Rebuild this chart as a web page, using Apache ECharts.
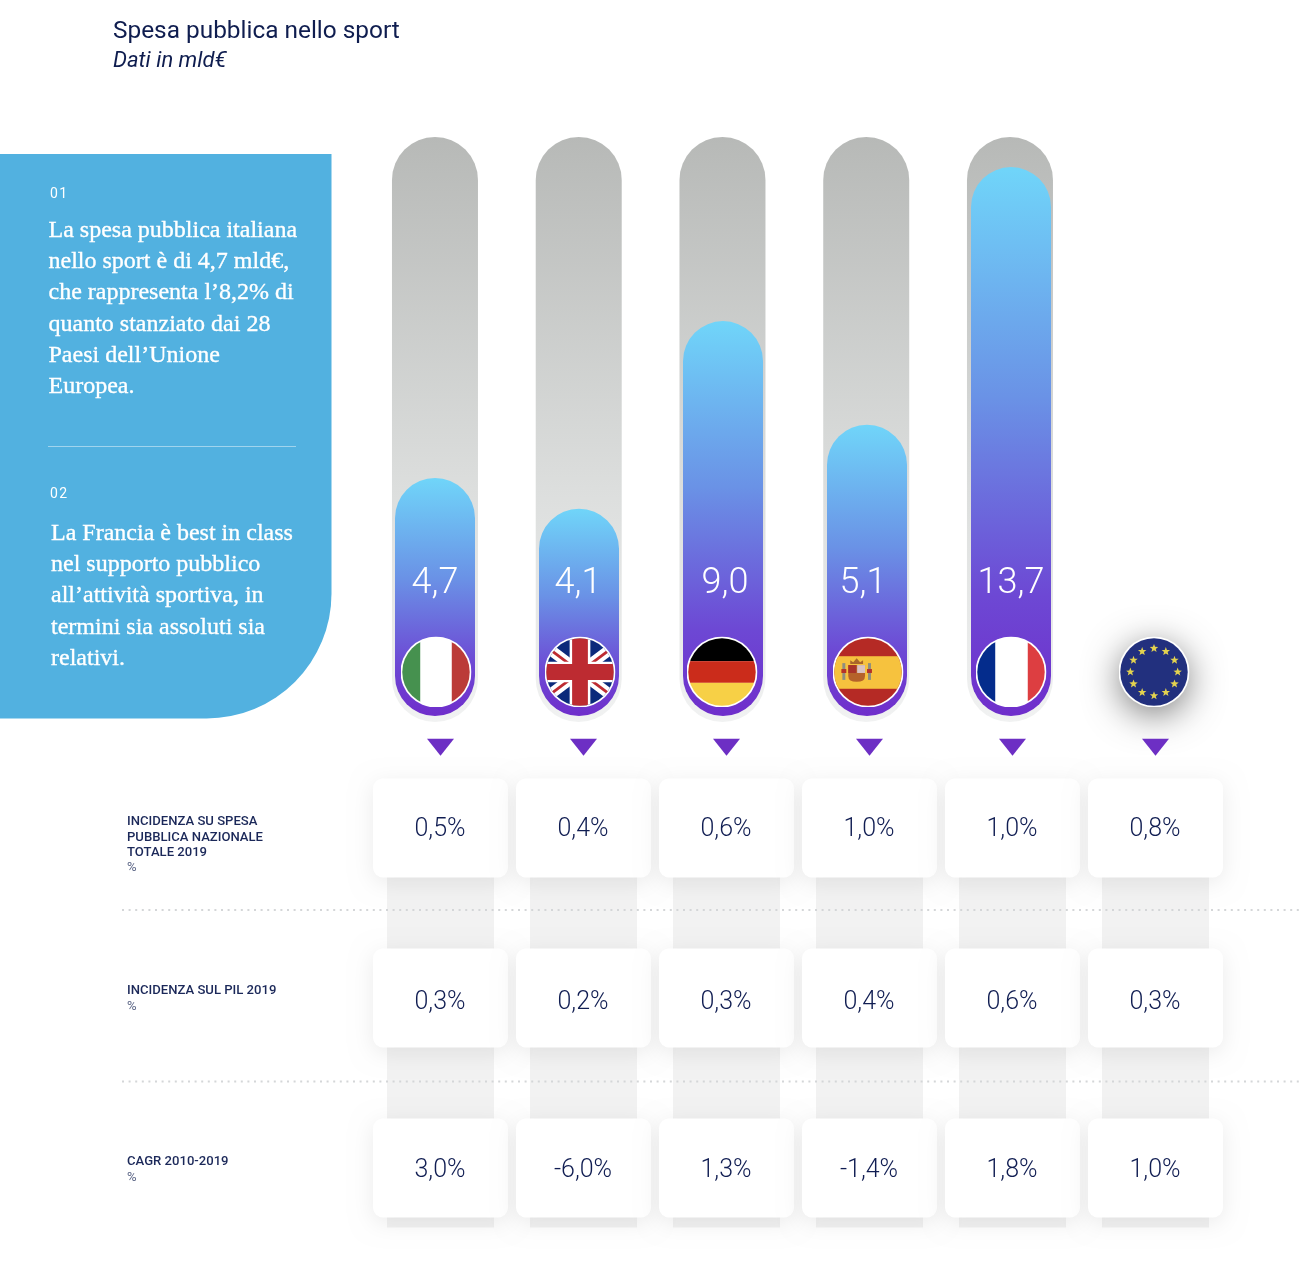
<!DOCTYPE html>
<html><head><meta charset="utf-8">
<style>html,body{margin:0;padding:0;background:#fff}#c{width:1300px;height:1266px}</style>
<script src="https://cdn.jsdelivr.net/npm/echarts@6/dist/echarts.min.js"></script>
</head><body><div id="c"></div>
<script>
const countries = ['Italia','Regno Unito','Germania','Spagna','Francia','UE'];
const spesaValues = [4.7,4.1,9.0,5.1,13.7];
// bar fill, as % of the grey track (the drawing is not proportional to the value)
const fillPercent = [41.1,35.8,68.2,50.3,94.8,null];
const trackPercent = [100,100,100,100,100,null];
const rowLabels = [['INCIDENZA SU SPESA','PUBBLICA NAZIONALE','TOTALE 2019'],['INCIDENZA SUL PIL 2019'],['CAGR 2010-2019']];
const incidenzaSpesa = [0.5,0.4,0.6,1.0,1.0,0.8];
const incidenzaPil = [0.3,0.2,0.3,0.4,0.6,0.3];
const cagr = [3.0,-6.0,1.3,-1.4,1.8,1.0];
const note1 = ['La spesa pubblica italiana','nello sport è di 4,7 mld€,','che rappresenta l’8,2% di','quanto stanziato dai 28','Paesi dell’Unione','Europea.'];
const note2 = ['La Francia è best in class','nel supporto pubblico','all’attività sportiva, in','termini sia assoluti sia','relativi.'];

const NAVY='#101d52';
const fmt=v=>v.toFixed(1).replace('.',',');
function flag(inner){
  const s='<svg xmlns="http://www.w3.org/2000/svg" width="144" height="144" viewBox="0 0 72 72"><defs><clipPath id="k"><circle cx="36" cy="36" r="34.2"/></clipPath></defs><circle cx="36" cy="36" r="36" fill="#fff"/><g clip-path="url(#k)">'+inner+'</g></svg>';
  return 'image://data:image/svg+xml;charset=utf-8,'+encodeURIComponent(s);
}
const stars=(()=>{let o='';for(let i=0;i<12;i++){const a=i*Math.PI/6;const x=36+24*Math.sin(a),y=36-24*Math.cos(a);
  let p='';for(let j=0;j<10;j++){const r=j%2?1.9:4.5,b=j*Math.PI/5;p+=(x+r*Math.sin(b)).toFixed(2)+','+(y-r*Math.cos(b)).toFixed(2)+' ';}
  o+='<polygon points="'+p+'" fill="#e3d24f"/>';}return o;})();
const flags=[
 flag('<rect width="72" height="72" fill="#fff"/><rect width="20" height="72" fill="#46914f"/><rect x="52" width="20" height="72" fill="#bb3b38"/>'),
 flag('<rect width="72" height="72" fill="#0b2a7b"/><path d="M0 9L72 63M72 9L0 63" stroke="#fff" stroke-width="11"/><path d="M0 9L72 63M72 9L0 63" stroke="#bd2b31" stroke-width="3"/><path d="M36 0V72M0 36H72" stroke="#fff" stroke-width="21"/><path d="M36 0V72M0 36H72" stroke="#bd2b31" stroke-width="16"/>'),
 flag('<rect width="72" height="25" fill="#000"/><rect y="25" width="72" height="22" fill="#cb2c1b"/><rect y="47" width="72" height="25" fill="#f7d046"/>'),
 flag('<rect width="72" height="72" fill="#b52a25"/><rect y="20" width="72" height="33" fill="#f6c23e"/><path d="M16 29H33V40Q33 46 24.5 46Q16 46 16 40Z" fill="#b5622a"/><rect x="25" y="29" width="8" height="8" fill="#d9c3c3"/><rect x="16" y="29" width="8" height="8" fill="#a8332a"/><path d="M18 28L18 24L21 26L24.5 22L28 26L31 24L31 28Z" fill="#a9662b"/><rect x="10" y="27" width="3" height="17" fill="#8e8e80"/><rect x="36" y="27" width="3" height="17" fill="#8e8e80"/><rect x="9" y="33" width="5" height="4" fill="#b5322a"/><rect x="35" y="33" width="5" height="4" fill="#b5322a"/>'),
 flag('<rect width="72" height="72" fill="#fff"/><rect width="20" height="72" fill="#042c8c"/><rect x="53" width="19" height="72" fill="#dd3e41"/>'),
 flag('<rect width="72" height="72" fill="#22307e"/>'+stars)
];
const flagLevel=7.6, markerRow=-0.475, stripeEnd=2.35;
const labelNudge=[0,-1,2,-4,0];
const flagNudge=[1,1,-1,1,0,-1];
const rowNudge=[2,5,3];
const rows=[incidenzaSpesa,incidenzaPil,cagr];
const cardData=[];rows.forEach((r,ri)=>r.forEach((v,ci)=>cardData.push([ci,ri,v])));

const serifStyle=t=>({text:t,fill:'#fff',stroke:'#fff',lineWidth:.35,font:'400 24px "Liberation Serif"',textVerticalAlign:'middle'});
const graphic=[
 {type:'rect',z:0,shape:{x:0,y:154,width:331.5,height:564.5,r:[0,0,125,0]},style:{fill:'#52b1e0'}},
 {type:'line',z:1,shape:{x1:48,y1:446.5,x2:296,y2:446.5},style:{stroke:'rgba(255,255,255,.45)',lineWidth:1}},
 {type:'text',z:2,x:50,y:187,style:{text:'0\u200a1',fill:'#fff',font:'400 14px Roboto'}},
 {type:'text',z:2,x:50,y:487,style:{text:'0\u200a2',fill:'#fff',font:'400 14px Roboto'}},
 {type:'line',z:3,shape:{x1:122,y1:910,x2:1300,y2:910},style:{stroke:'#d4d6d8',lineWidth:2,lineDash:[2,4.6]}},
 {type:'line',z:3,shape:{x1:122,y1:1081.5,x2:1300,y2:1081.5},style:{stroke:'#d4d6d8',lineWidth:2,lineDash:[2,4.6]}}
];
note1.forEach((t,i)=>graphic.push({type:'text',z:2,x:48.5,y:230.5+i*31.3,style:serifStyle(t)}));
note2.forEach((t,i)=>graphic.push({type:'text',z:2,x:51,y:533.5+i*31.3,style:serifStyle(t)}));
const rowTop=[815.5,984.5,1155.5];
rowLabels.forEach((ls,ri)=>{
  ls.forEach((t,i)=>graphic.push({type:'text',z:2,x:127,y:rowTop[ri]+i*15.3,style:{text:t,fill:'#1b2859',font:'500 13.1px Roboto'}}));
  graphic.push({type:'text',z:2,x:127,y:rowTop[ri]+ls.length*15.3,style:{text:'%',fill:'#5a6485',font:'400 13.1px Roboto'}});
});

const hiddenCat=i=>({type:'category',gridIndex:i,data:countries,show:false});
const chart=echarts.init(document.getElementById('c'),null,{renderer:'canvas'});
chart.setOption({
 animation:false,
 title:{left:108,top:12,itemGap:1,text:'Spesa pubblica nello sport',subtext:'Dati in mld€',
   textStyle:{fontFamily:'Roboto',fontWeight:400,fontSize:24.4,color:'#0f1d4f',lineHeight:30},
   subtextStyle:{fontFamily:'Roboto',fontStyle:'italic',fontSize:22,color:'#0f1d4f',lineHeight:26}},
 graphic:{elements:graphic},
 grid:[
  {left:363.1,width:862.5,top:137,height:585},
  {left:363,width:864,top:137,height:579},
  {left:369,width:858,top:743,height:510}
 ],
 xAxis:[hiddenCat(0),hiddenCat(1),hiddenCat(2)],
 yAxis:[
  {type:'value',gridIndex:0,min:0,max:100,show:false},
  {type:'value',gridIndex:1,min:0,max:100,show:false},
  {type:'value',gridIndex:2,min:-0.5,max:2.5,inverse:true,show:false}
 ],
 series:[
  {name:'track',type:'bar',xAxisIndex:0,yAxisIndex:0,data:trackPercent,barWidth:86,silent:true,z:2,
   itemStyle:{borderRadius:43,color:new echarts.graphic.LinearGradient(0,0,0,1,[
     {offset:0,color:'#b7b9b7'},{offset:.6,color:'#dcdedd'},{offset:1,color:'#f1f2f2'}])}},
  {name:'Spesa',type:'bar',xAxisIndex:1,yAxisIndex:1,data:fillPercent,barWidth:80,z:3,
   itemStyle:{borderRadius:40,color:new echarts.graphic.LinearGradient(0,0,0,1,[
     {offset:0,color:'#70d5f9'},{offset:.42,color:'#6a92e6'},{offset:.78,color:'#6d48d4'},{offset:1,color:'#6f2ecb'}])},
   label:{show:true,position:'insideBottom',distance:114,color:'#fff',fontFamily:'Roboto',fontWeight:300,fontSize:36,
     formatter:p=>fmt(spesaValues[p.dataIndex]),
   },
   labelLayout:p=>({dx:labelNudge[p.dataIndex]||0})},
  {name:'euShadow',type:'scatter',xAxisIndex:1,yAxisIndex:1,silent:true,z:4,symbol:'circle',symbolSize:68,symbolOffset:[-1,0],
   data:[[5,flagLevel]],itemStyle:{color:'#22307e',opacity:1,shadowBlur:36,shadowOffsetY:8,shadowColor:'rgba(0,0,0,.55)'}},
  {name:'flags',type:'scatter',xAxisIndex:1,yAxisIndex:1,silent:true,z:5,symbolSize:71,
   data:countries.map((c,i)=>({value:[i,flagLevel],symbol:flags[i],symbolOffset:[flagNudge[i],0]})),itemStyle:{opacity:1}},
  {name:'stripes',type:'bar',xAxisIndex:2,yAxisIndex:2,barWidth:107,silent:true,z:1,
   data:countries.map(()=>stripeEnd),itemStyle:{color:'#f2f2f2'}},
  {name:'markers',type:'scatter',xAxisIndex:2,yAxisIndex:2,silent:true,z:5,symbol:'triangle',symbolRotate:180,symbolSize:[27,17],
   data:countries.map((c,i)=>[i,markerRow]),itemStyle:{color:'#6d2fc4',opacity:1}},
  {name:'cards',type:'custom',xAxisIndex:2,yAxisIndex:2,z:4,encode:{x:0,y:1},data:cardData,
   renderItem:(params,api)=>{
     const p=api.coord([api.value(0),api.value(1)]);
     return {type:'group',children:[
       {type:'rect',shape:{x:p[0]-67.5,y:p[1]-49.5,width:135,height:99,r:10},
        style:{fill:'#fff',shadowBlur:22,shadowOffsetY:5,shadowColor:'rgba(0,0,0,.08)'}},
       {type:'text',x:p[0]-0.5,y:p[1]+rowNudge[api.value(1)],
        style:{text:fmt(api.value(2))+'%',fill:NAVY,font:'300 25px Roboto',textAlign:'center',textVerticalAlign:'middle'}}
     ]};
   }}
 ]
});
</script></body></html>
